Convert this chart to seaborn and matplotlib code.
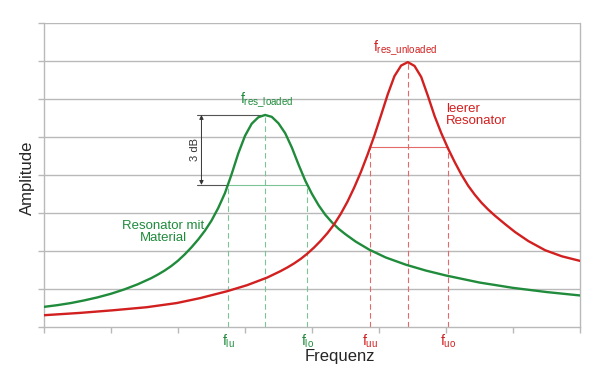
import matplotlib
matplotlib.use("Agg")
import matplotlib.pyplot as plt
import matplotlib.transforms as mtransforms
import seaborn as sns

# curve readings (x in tick units 0..8, y in grid units 0..8)
green_x = [0, 0.2, 0.4, 0.6, 0.8, 1.0, 1.2, 1.4, 1.6, 1.7, 1.8, 1.9, 2.0, 2.1, 2.2,
           2.3, 2.4, 2.5, 2.6, 2.7, 2.8, 2.9, 3.0, 3.1, 3.2, 3.3, 3.4, 3.5, 3.6,
           3.7, 3.8, 3.9, 4.0, 4.1, 4.2, 4.3, 4.4, 4.5, 4.65, 4.85, 5.1, 5.4,
           5.7, 6.0, 6.5, 7.0, 7.5, 8.0]
green_y = [0.53, 0.575, 0.63, 0.70, 0.78, 0.875, 0.99, 1.125, 1.285, 1.38, 1.485,
           1.605, 1.745, 1.91, 2.095, 2.30, 2.53, 2.80, 3.13, 3.52, 4.02, 4.57,
           5.03, 5.35, 5.52, 5.58, 5.53, 5.36, 5.10, 4.72, 4.27, 3.85, 3.50, 3.20,
           2.95, 2.75, 2.58, 2.44, 2.25, 2.04, 1.83, 1.64, 1.485, 1.355, 1.17,
           1.03, 0.92, 0.83]

red_x = [0, 0.53, 1.03, 1.53, 1.98, 2.33, 2.73, 3.03, 3.33, 3.53, 3.63, 3.73, 3.83,
         3.93, 4.03, 4.13, 4.23, 4.33, 4.43, 4.53, 4.63, 4.73, 4.83, 4.93, 5.03,
         5.13, 5.23, 5.33, 5.43, 5.53, 5.63, 5.73, 5.83, 5.93, 6.03, 6.13, 6.23,
         6.33, 6.43, 6.53, 6.63, 6.73, 6.88, 7.03, 7.23, 7.48, 7.73, 8.0]
red_y = [0.31, 0.37, 0.44, 0.52, 0.63, 0.76, 0.94, 1.10, 1.30, 1.47, 1.565, 1.67,
         1.79, 1.93, 2.09, 2.27, 2.47, 2.70, 2.98, 3.30, 3.67, 4.08, 4.54, 5.03,
         5.57, 6.12, 6.60, 6.88, 6.97, 6.87, 6.58, 6.08, 5.55, 5.10, 4.70, 4.34,
         4.01, 3.72, 3.48, 3.27, 3.09, 2.93, 2.71, 2.50, 2.26, 2.02, 1.86, 1.74]

# marker frequencies and levels
loaded_f = [2.75, 3.30, 3.93]      # f_lu, f_res_loaded, f_lo
loaded_peak = 5.58
loaded_3db = 3.74
unloaded_f = [4.87, 5.43, 6.03]    # f_uu, f_res_unloaded, f_uo
unloaded_peak = 6.97
unloaded_3db = 4.74

green = "#1f8b3b"
green_light = "#7cc493"
red = "#d21f1f"
red_light = "#e46a6a"
grid = "#b9b9b9"

sns.set_style("white")
plt.rcParams["font.family"] = ["Liberation Sans", "DejaVu Sans"]
plt.rcParams["mathtext.fontset"] = "custom"
plt.rcParams["mathtext.rm"] = "Liberation Sans"

fig = plt.figure(figsize=(6, 3.77), dpi=100)
ax = fig.add_axes([44 / 600, 50 / 377, 536 / 600, 304 / 377])

# grid
for yv in range(1, 9):
    ax.axhline(yv, color=grid, lw=1.0, zorder=0)

# dashed markers
for f, top in zip(loaded_f, [loaded_3db, loaded_peak, loaded_3db]):
    ax.plot([f, f], [0, top], color=green_light, lw=0.8, ls=(0, (5, 3)), zorder=1)
for f, top in zip(unloaded_f, [unloaded_3db, unloaded_peak, unloaded_3db]):
    ax.plot([f, f], [0, top], color=red_light, lw=0.8, ls=(0, (5, 3)), zorder=1)
ax.plot([loaded_f[0], loaded_f[2]], [loaded_3db] * 2, color=green_light, lw=0.8, zorder=1)
ax.plot([unloaded_f[0], unloaded_f[2]], [unloaded_3db] * 2, color=red_light, lw=0.8, zorder=1)

# curves
sns.lineplot(x=green_x, y=green_y, ax=ax, color=green, lw=1.7, zorder=3)
sns.lineplot(x=red_x, y=red_y, ax=ax, color=red, lw=1.7, zorder=3)

# 3 dB annotation
ax.plot([2.28, loaded_f[1]], [loaded_peak] * 2, color="#555555", lw=0.8, zorder=2)
ax.plot([2.28, loaded_f[0]], [loaded_3db] * 2, color="#555555", lw=0.8, zorder=2)
ax.annotate("", xy=(2.35, loaded_peak), xytext=(2.35, loaded_3db),
            arrowprops=dict(arrowstyle="<|-|>", color="#333333", lw=0.7,
                            mutation_scale=6, shrinkA=0, shrinkB=0))
ax.text(2.25, (loaded_peak + loaded_3db) / 2, "3 dB", rotation=90, ha="center",
        va="center", fontsize=8, color="#333333")

# labels
ax.text(3.33, 5.70, r"f$_{\mathrm{res\_loaded}}$", color=green, fontsize=10,
        ha="center", va="bottom")
ax.text(5.39, 7.08, r"f$_{\mathrm{res\_unloaded}}$", color=red, fontsize=10,
        ha="center", va="bottom")
ax.text(1.78, 2.5, "Resonator mit\nMaterial", color=green, fontsize=9.5,
        ha="center", va="center", linespacing=1.1)
ax.text(6.0, 5.58, "leerer\nResonator", color=red, fontsize=9.5,
        ha="left", va="center", linespacing=1.1)

trans = mtransforms.blended_transform_factory(ax.transData, ax.transAxes)
for f, lab, c in [(loaded_f[0], "lu", green), (loaded_f[2], "lo", green),
                  (unloaded_f[0], "uu", red), (unloaded_f[2], "uo", red)]:
    ax.text(f, -0.02, r"f$_{\mathrm{%s}}$" % lab, transform=trans, color=c,
            fontsize=10, ha="center", va="top")

ax.set_xlim(0, 8)
ax.set_ylim(0, 8)
ax.set_xticks(range(0, 9))
ax.set_yticks(range(0, 9))
ax.set_xticklabels([])
ax.set_yticklabels([])
ax.tick_params(axis="both", direction="out", length=4, width=1.0, color=grid,
               bottom=True, left=True)
for side in ["left", "right", "bottom"]:
    ax.spines[side].set_color(grid)
    ax.spines[side].set_linewidth(1.0)
ax.spines["top"].set_visible(False)

ax.set_xlabel("Frequenz", fontsize=12)
ax.set_ylabel("Amplitude", fontsize=12)
ax.xaxis.set_label_coords(0.552, -0.072)
ax.yaxis.set_label_coords(-0.017, 0.49)

fig.savefig("out.png", dpi=100)
